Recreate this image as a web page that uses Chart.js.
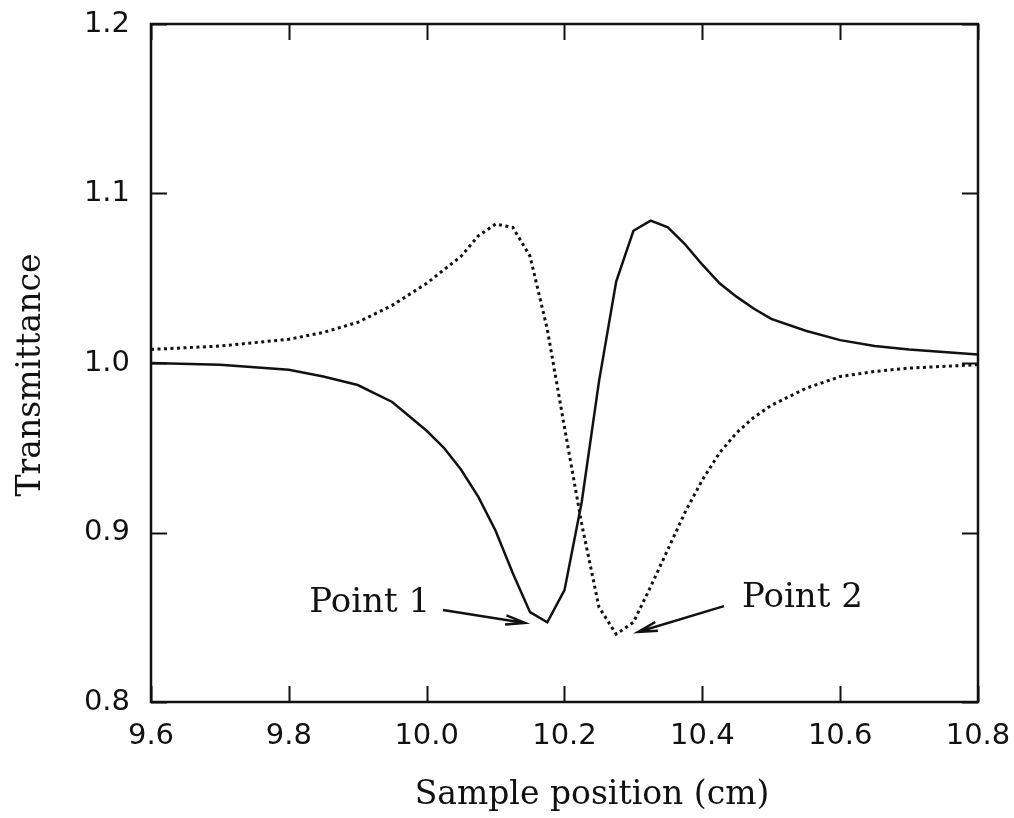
<!DOCTYPE html>
<html>
<head>
<meta charset="utf-8">
<script src="https://cdn.jsdelivr.net/npm/chart.js@4/dist/chart.umd.min.js"></script>
<style>
  html, body { margin: 0; padding: 0; background: #ffffff; }
  #wrap { width: 1014px; height: 818px; }
</style>
</head>
<body>
<div id="wrap"><canvas id="c" width="1014" height="818"></canvas></div>
<script>
// ---- data ----
const positions = [9.6, 9.7, 9.8, 9.85, 9.9, 9.95, 10.0, 10.025, 10.05, 10.075, 10.1, 10.125,
  10.15, 10.175, 10.2, 10.225, 10.25, 10.275, 10.3, 10.325, 10.35, 10.375, 10.4, 10.425, 10.45,
  10.475, 10.5, 10.55, 10.6, 10.65, 10.7, 10.8];
const solidSeries = [1.000, 0.999, 0.996, 0.992, 0.987, 0.977, 0.960, 0.950, 0.937, 0.921, 0.901, 0.876,
  0.853, 0.847, 0.866, 0.918, 0.989, 1.048, 1.078, 1.084, 1.080, 1.070, 1.058, 1.047, 1.039,
  1.032, 1.026, 1.019, 1.0135, 1.010, 1.008, 1.005];
const dottedSeries = [1.008, 1.010, 1.014, 1.018, 1.024, 1.034, 1.047, 1.055, 1.063, 1.075, 1.082, 1.080,
  1.063, 1.020, 0.962, 0.905, 0.856, 0.840, 0.847, 0.868, 0.890, 0.912, 0.931, 0.947, 0.959,
  0.968, 0.975, 0.985, 0.992, 0.995, 0.997, 0.999];
const xTickValues = [9.6, 9.8, 10.0, 10.2, 10.4, 10.6, 10.8];
const xTickLabels = ['9.6', '9.8', '10.0', '10.2', '10.4', '10.6', '10.8'];
const yTickValues = [0.8, 0.9, 1.0, 1.1, 1.2];
const yTickLabels = ['0.8', '0.9', '1.0', '1.1', '1.2'];
const xTitle = 'Sample position (cm)';
const yTitle = 'Transmittance';
const annotationTexts = ['Point 1', 'Point 2'];
// annotation anchors in data units
const annotationAnchors = [
  { tx: 10.005, ty: 0.8531, align: 'right', from: [10.0237, 0.8543], to: [10.1427, 0.8466] },
  { tx: 10.4575, ty: 0.8560, align: 'left', from: [10.4314, 0.8566], to: [10.3066, 0.8413] }
];

const INK = '#111111';
const serif = '"DejaVu Serif", "Liberation Serif", serif';
const sans = '"DejaVu Sans", "Liberation Sans", Arial, sans-serif';

const framePlugin = {
  id: 'frame',
  afterDraw(chart) {
    const { ctx, chartArea: a, scales } = chart;
    const xs = scales.x, ys = scales.y;
    ctx.save();
    ctx.strokeStyle = INK;
    ctx.lineWidth = 2.5;
    ctx.strokeRect(a.left, a.top, a.right - a.left, a.bottom - a.top);
    const TL = 16;
    ctx.lineWidth = 2;
    ctx.beginPath();
    xTickValues.forEach(v => {
      const px = Math.round(xs.getPixelForValue(v)) + 0.5;
      ctx.moveTo(px, a.bottom); ctx.lineTo(px, a.bottom - TL);
      ctx.moveTo(px, a.top); ctx.lineTo(px, a.top + TL);
    });
    yTickValues.forEach(v => {
      const py = Math.round(ys.getPixelForValue(v)) + 0.5;
      ctx.moveTo(a.left, py); ctx.lineTo(a.left + TL, py);
      ctx.moveTo(a.right, py); ctx.lineTo(a.right - TL, py);
    });
    ctx.stroke();

    // axis titles
    ctx.fillStyle = INK;
    ctx.font = '33px ' + serif;
    ctx.textAlign = 'center';
    ctx.textBaseline = 'middle';
    ctx.fillText(xTitle, 592, 795);
    ctx.save();
    ctx.translate(31, 375);
    ctx.rotate(-Math.PI / 2);
    ctx.fillText(yTitle, 0, 0);
    ctx.restore();

    // annotations with arrows
    ctx.font = '34px ' + serif;
    ctx.textBaseline = 'alphabetic';
    annotationAnchors.forEach((an, i) => {
      ctx.textAlign = an.align;
      ctx.fillText(annotationTexts[i], xs.getPixelForValue(an.tx), ys.getPixelForValue(an.ty));
      const x0 = xs.getPixelForValue(an.from[0]), y0 = ys.getPixelForValue(an.from[1]);
      const x1 = xs.getPixelForValue(an.to[0]), y1 = ys.getPixelForValue(an.to[1]);
      ctx.lineWidth = 2.4;
      ctx.beginPath();
      ctx.moveTo(x0, y0); ctx.lineTo(x1, y1);
      const ang = Math.atan2(y0 - y1, x0 - x1);
      const hl = 20, spread = 0.23;
      ctx.moveTo(x1 + hl * Math.cos(ang + spread), y1 + hl * Math.sin(ang + spread));
      ctx.lineTo(x1, y1);
      ctx.lineTo(x1 + hl * Math.cos(ang - spread), y1 + hl * Math.sin(ang - spread));
      ctx.stroke();
    });
    ctx.restore();
  }
};

new Chart(document.getElementById('c'), {
  type: 'line',
  data: {
    datasets: [
      {
        label: 'Point 1 scan',
        data: positions.map((x, i) => ({ x, y: solidSeries[i] })),
        borderColor: INK, borderWidth: 2.5, pointRadius: 0, tension: 0, fill: false
      },
      {
        label: 'Point 2 scan',
        data: positions.map((x, i) => ({ x, y: dottedSeries[i] })),
        borderColor: INK, borderWidth: 3, borderDash: [3, 3.5], pointRadius: 0, tension: 0, fill: false
      }
    ]
  },
  options: {
    responsive: false,
    animation: false,
    devicePixelRatio: 1,
    layout: { padding: { top: 24, right: 36, left: 0, bottom: 0 } },
    plugins: { legend: { display: false }, tooltip: { enabled: false } },
    scales: {
      x: {
        type: 'linear', min: 9.6, max: 10.8,
        grid: { display: false, drawTicks: false, tickLength: 0 }, border: { display: false },
        afterBuildTicks: s => { s.ticks = xTickValues.map(v => ({ value: v })); },
        afterFit: s => { s.height = 116; s.paddingLeft = 0; s.paddingRight = 0; },
        ticks: {
          color: INK, font: { family: sans, size: 29 }, padding: 17, maxRotation: 0, autoSkip: false,
          callback: (v, i) => xTickLabels[i]
        }
      },
      y: {
        type: 'linear', min: 0.8, max: 1.2,
        grid: { display: false, drawTicks: false, tickLength: 0 }, border: { display: false },
        afterBuildTicks: s => { s.ticks = yTickValues.map(v => ({ value: v })); },
        afterFit: s => { s.width = 151; s.paddingTop = 0; s.paddingBottom = 0; },
        ticks: {
          color: INK, font: { family: sans, size: 29 }, padding: 21, autoSkip: false,
          callback: (v, i) => yTickLabels[i]
        }
      }
    }
  },
  plugins: [framePlugin]
});
</script>
</body>
</html>
